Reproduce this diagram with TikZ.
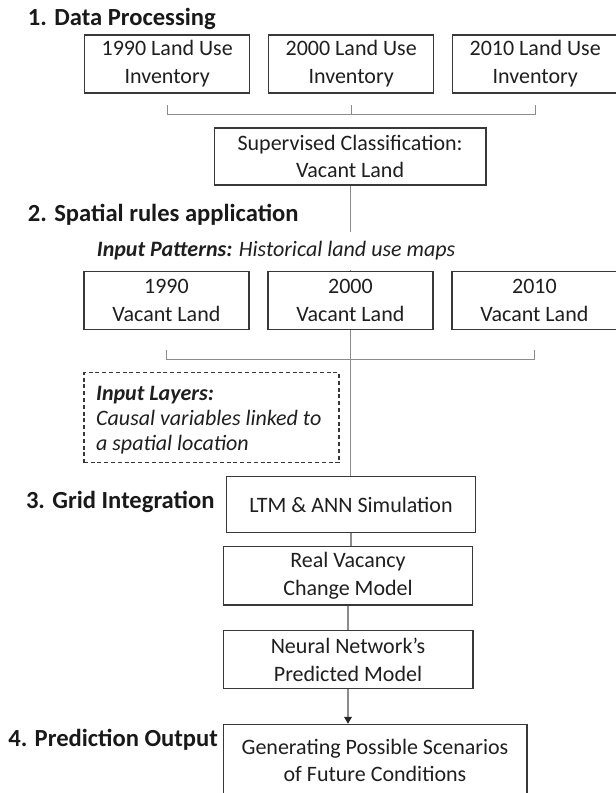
\documentclass[tikz,border=0pt]{standalone}
\usepackage{fontspec}
\setmainfont{Carlito}
\usetikzlibrary{arrows.meta,positioning,backgrounds}

\begin{document}
\begin{tikzpicture}[
  x=0.5pt, y=-0.5pt,
  node distance=8.75pt,
  box/.style={rectangle, draw=black!78, line width=0.75pt, fill=white, text=black!88,
              align=center, inner sep=0pt, minimum width=82.5pt, minimum height=28.85pt,
              font=\fontsize{11}{13.85}\selectfont},
  stage/.style={anchor=base west, inner sep=0pt, text=black!90,
                font=\fontsize{12.3}{14}\selectfont\bfseries},
  note/.style={anchor=west, align=left, inner sep=0pt, text=black!88,
               font=\fontsize{11}{12.5}\selectfont\itshape},
  link/.style={draw=black!45, line width=0.6pt},
  arrow/.style={link, -{Triangle[length=3.4pt, width=3.8pt, color=black!85]}}
]
\useasboundingbox (0,0) rectangle (616,793);

% stage titles
\node[stage] (stdata) at (27.5,25) {1. Data Processing};
\node[stage] (strules) at (27.5,221.7) {2. Spatial rules application};
\node[stage] (stgrid) at (25.6,508) {3. Grid Integration};
\node[stage] (stpred) at (7.9,746.7) {4. Prediction Output};

% data processing
\node[box] (inv90) at (167.2,63.9) {1990 Land Use\\Inventory};
\node[box, right=of inv90] (inv00) {2000 Land Use\\Inventory};
\node[box, right=of inv00] (inv10) {2010 Land Use\\Inventory};
\node[box, minimum width=135.7pt, minimum height=28.65pt] (sup) at (350.1,156.4)
  {Supervised Classification:\\Vacant Land};

% spatial rules
\node[note, fill=white, inner xsep=6pt, minimum height=19pt] (pat) at (84.5,251)
  {\textbf{Input Patterns:} Historical land use maps};
\node[box] (vac90) at (166.4,300.5) {1990\\Vacant Land};
\node[box, right=of vac90] (vac00) {2000\\Vacant Land};
\node[box, right=of vac00] (vac10) {2010\\Vacant Land};
\node[box, dashed, dash pattern=on 2pt off 1.4pt, minimum width=127.6pt, minimum height=45pt]
  (layers) at (211.4,417.7) {};
\node[note] (layerstxt) at ([xshift=6.35pt,yshift=-1.3pt]layers.west)
  {\textbf{Input Layers:}\\Causal variables linked to\\a spatial location};

% grid integration
\node[box, minimum width=124.3pt, minimum height=28pt] (ltm) at (351,504.7) {LTM \& ANN Simulation};
\node[box, minimum width=124.4pt, minimum height=29.15pt, below=6.15pt of ltm, xshift=-1.5pt] (real)
  {Real Vacancy\\Change Model};
\node[box, minimum width=124.75pt, minimum height=29.2pt, below=12pt of real] (neural)
  {Neural Network’s\\Predicted Model};

% prediction output
\node[box, minimum width=151.75pt, minimum height=35.85pt, below=17.15pt of neural.south west,
      anchor=north west] (out) {Generating Possible Scenarios\\of Future Conditions};

% connectors
\begin{scope}[on background layer]
\draw[link] (sup.south) -- (sup.south |- ltm.north);
\end{scope}
\draw[link] ([yshift=-5.8pt]inv90.south) -- ++(0,-4.5pt) -| ([yshift=-5.8pt]inv10.south);
\draw[link] ([yshift=-5.8pt]inv00.south) -- ++(0,-4.5pt);
\draw[link] ([yshift=-10pt]vac90.south) -- ++(0,-4.5pt) -| ([yshift=-10pt]vac10.south);
\draw[link] (ltm.south) -- (ltm.south |- real.north);
\draw[link] (real.south) -- (real.south |- neural.north);
\draw[arrow] (neural.south) -- (neural.south |- out.north);
\end{tikzpicture}
\end{document}
